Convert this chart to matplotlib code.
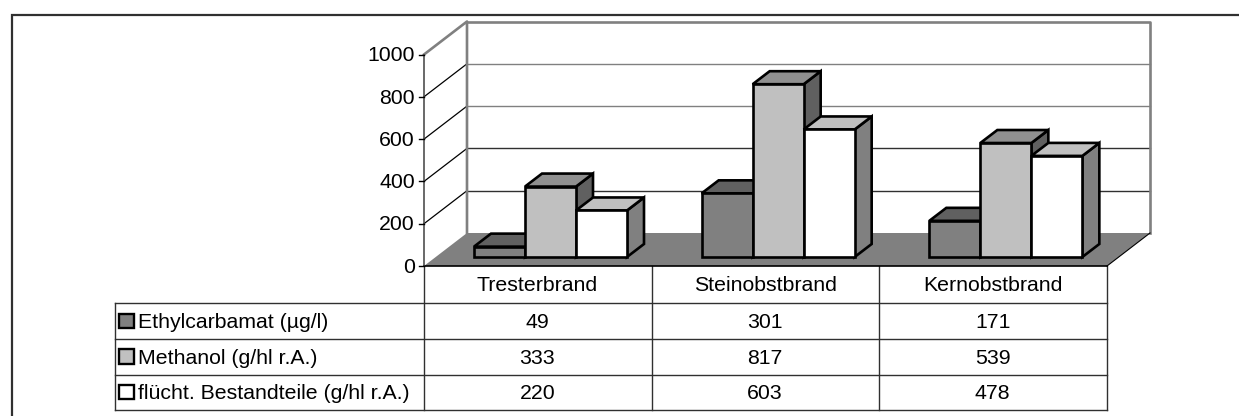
import numpy as np
import matplotlib.pyplot as plt
from matplotlib.patches import Polygon, Rectangle

plt.rcParams["font.family"] = ["Liberation Sans", "DejaVu Sans"]

# ---- data ----
categories = ["Tresterbrand", "Steinobstbrand", "Kernobstbrand"]
series_names = ["Ethylcarbamat (µg/l)", "Methanol (g/hl r.A.)", "flücht. Bestandteile (g/hl r.A.)"]
ethylcarbamat = [49, 301, 171]
methanol = [333, 817, 539]
fluechtig = [220, 603, 478]
y_ticks = [0, 200, 400, 600, 800, 1000]

# ---- colours per series: front, top, side ----
front_colors = ["#808080", "#c0c0c0", "#ffffff"]
top_colors = ["#606060", "#909090", "#c0c0c0"]
side_colors = ["#606060", "#606060", "#808080"]

W, H = 1239, 416
X0, Y0 = 424, 266          # pixel position of the axis origin
CAT_W = 227.67             # pixels per category
VAL_H = 0.2115             # pixels per value unit

fig = plt.figure(figsize=(W / 100, H / 100), dpi=100, facecolor="white")

# ---- table and outer frame, pixel coordinates ----
tab = fig.add_axes([0, 0, 1, 1])
tab.set_xlim(0, W)
tab.set_ylim(H, 0)
tab.axis("off")

tab.plot([11.5, 11.5, W], [H, 15, 15], color="#303030", lw=1.6, solid_joinstyle="miter")

col_x = [X0 + CAT_W * i for i in range(4)]
row_y = [303, 339, 374.5, 410]
line_col = "#303030"
for y in row_y:
    tab.plot([114.5, col_x[-1]], [y, y], color=line_col, lw=1.0)
tab.plot([114.5, 114.5], [row_y[0], row_y[-1]], color=line_col, lw=1.0)
for x in col_x:
    tab.plot([x, x], [Y0, row_y[-1]], color=line_col, lw=1.0)

FS = 15.3
for i, name in enumerate(categories):
    tab.text(col_x[i] + CAT_W / 2 - 0.5, 285.5, name, ha="center", va="center", fontsize=FS, color="black")

rows = [ethylcarbamat, methanol, fluechtig]
for r, values in enumerate(rows):
    yc = (row_y[r] + row_y[r + 1]) / 2
    tab.add_patch(Rectangle((119, yc - 7.5), 14.5, 14.5, facecolor=front_colors[r],
                            edgecolor="black", lw=1.7))
    tab.text(138.5, yc + 1.5, series_names[r], ha="left", va="center", fontsize=FS, color="black")
    for i, v in enumerate(values):
        tab.text(col_x[i] + CAT_W / 2 - 0.5, yc + 1.5, str(v), ha="center", va="center",
                 fontsize=FS, color="black")

# ---- chart, x in category units and y in value units ----
ax = fig.add_axes([0, 0, 1, 1])
ax.patch.set_alpha(0)
ax.axis("off")
ax.set_xlim(-X0 / CAT_W, (W - X0) / CAT_W)
ax.set_ylim((Y0 - H) / VAL_H, Y0 / VAL_H)

# depth of the floor and of the bars
wall_dx, wall_dy = 43 / CAT_W, 33 / VAL_H
bar_dx, bar_dy = 17 / CAT_W, 13 / VAL_H
base_y = 9 / VAL_H
bar_start = 50 / CAT_W
bar_w = 51 / CAT_W

n_cat = len(categories)
top_val = y_ticks[-1]

# floor
ax.add_patch(Polygon([(0, 0), (n_cat, 0), (n_cat + wall_dx, wall_dy), (wall_dx, wall_dy)],
                     facecolor="#808080", edgecolor="none", zorder=1.6))
ax.plot([0, n_cat], [0, 0], color="black", lw=1.2, zorder=2)
ax.plot([n_cat, n_cat + wall_dx], [0, wall_dy], color="black", lw=0.8, zorder=2)

# gridlines on the back wall and along the left wall
for t in y_ticks[1:-1]:
    grid_col = "#808080" if t >= 600 else "#303030"
    ax.plot([wall_dx, n_cat + wall_dx], [t + wall_dy, t + wall_dy], color=grid_col, lw=1.0, zorder=1)
    ax.plot([0, wall_dx], [t, t + wall_dy], color="black", lw=0.9, zorder=1)

# wall outline
ax.plot([0, wall_dx, wall_dx], [top_val, top_val + wall_dy, wall_dy], color="#808080", lw=1.9, zorder=1.5)
ax.plot([wall_dx, n_cat + wall_dx, n_cat + wall_dx],
        [top_val + wall_dy, top_val + wall_dy, wall_dy], color="#808080", lw=1.9, zorder=1.5)

# value axis with ticks
ax.plot([0, 0], [0, top_val], color="#404040", lw=1.1, zorder=2)
tick_len = 5 / CAT_W
for t in y_ticks:
    ax.plot([-tick_len, 0], [t, t], color="black", lw=1.0, zorder=2)
    ax.text(-9 / CAT_W, t - 6, str(t), ha="right", va="center", fontsize=FS, color="black")

# bars, painted left to right so each front hides the previous side
z = 3
for c in range(n_cat):
    for s, values in enumerate(rows):
        x0 = c + bar_start + s * bar_w
        x1 = x0 + bar_w
        y0 = base_y
        y1 = base_y + values[c]
        style = dict(edgecolor="black", lw=1.9, joinstyle="miter", zorder=z)
        ax.add_patch(Polygon([(x1, y0), (x1 + bar_dx, y0 + bar_dy), (x1 + bar_dx, y1 + bar_dy), (x1, y1)],
                             facecolor=side_colors[s], **style))
        ax.add_patch(Polygon([(x0, y1), (x0 + bar_dx, y1 + bar_dy), (x1 + bar_dx, y1 + bar_dy), (x1, y1)],
                             facecolor=top_colors[s], **style))
        ax.add_patch(Polygon([(x0, y0), (x1, y0), (x1, y1), (x0, y1)],
                             facecolor=front_colors[s], **style))
        z += 1

fig.savefig("out.png", dpi=100)
